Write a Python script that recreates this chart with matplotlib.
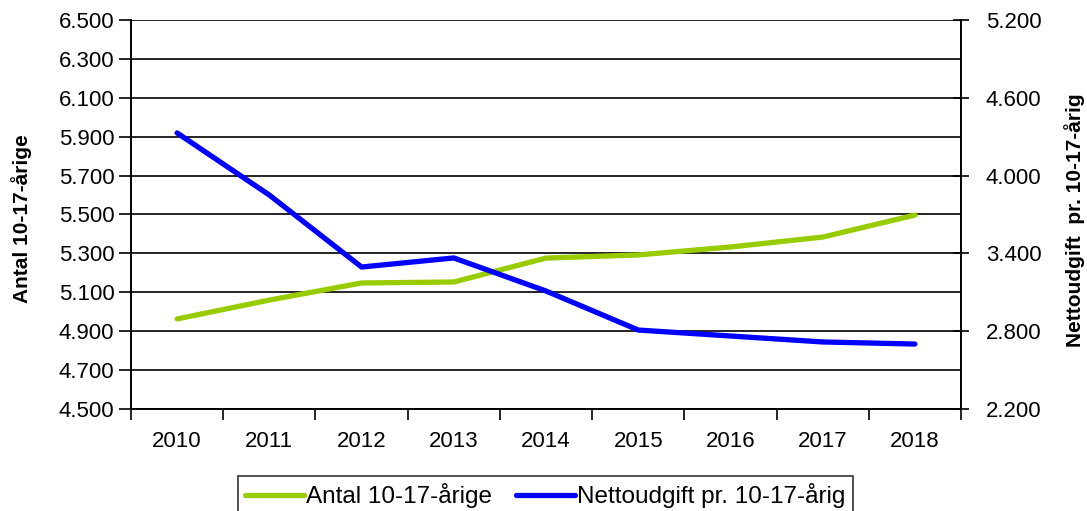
import matplotlib.pyplot as plt
from matplotlib.ticker import FuncFormatter, FixedLocator
import numpy as np

plt.rcParams['font.family'] = ['Liberation Sans', 'DejaVu Sans']

years = ['2010', '2011', '2012', '2013', '2014', '2015', '2016', '2017', '2018']
antal = [4963, 5060, 5148, 5153, 5276, 5292, 5333, 5384, 5497]
nettoudgift = [4329, 3850, 3295, 3365, 3110, 2809, 2763, 2717, 2701]

left_ticks = [4500, 4700, 4900, 5100, 5300, 5500, 5700, 5900, 6100, 6300, 6500]
right_ticks = [2200, 2800, 3400, 4000, 4600, 5200]

green = '#99CC00'
blue = '#0000FF'


def dot_thousands(v, pos):
    return f'{int(round(v)):,}'.replace(',', '.')


fig = plt.figure(figsize=(10.87, 5.11), dpi=100)
ax = fig.add_axes([131/1087, 1 - 409/511, 830/1087, 389/511])
ax2 = ax.twinx()

x = np.arange(len(years))
l1, = ax.plot(x, antal, color=green, lw=3.8, solid_capstyle='round', label='Antal 10-17-årige')
l2, = ax2.plot(x, nettoudgift, color=blue, lw=3.8, solid_capstyle='round', label='Nettoudgift pr. 10-17-årig')

# left axis
ax.set_ylim(left_ticks[0], left_ticks[-1])
ax.yaxis.set_major_locator(FixedLocator(left_ticks))
ax.yaxis.set_major_formatter(FuncFormatter(dot_thousands))
ax.grid(axis='y', color='black', lw=1.2)
ax.set_axisbelow(True)
ax.tick_params(axis='y', direction='out', length=9, width=1.2, labelsize=16, pad=3)
ax.set_ylabel('Antal 10-17-årige', fontsize=15, fontweight='bold')
ax.yaxis.set_label_coords(-0.119, 0.49)

# right axis
ax2.set_ylim(right_ticks[0], right_ticks[-1])
ax2.yaxis.set_major_locator(FixedLocator(right_ticks))
ax2.yaxis.set_major_formatter(FuncFormatter(dot_thousands))
ax2.tick_params(axis='y', direction='inout', length=12, width=1.2, labelsize=16, pad=12)
ax2.set_ylabel('Nettoudgift  pr. 10-17-årig', fontsize=15, fontweight='bold')
ax2.yaxis.set_label_coords(1.124, 0.486)

# x axis: labels centered, ticks on category boundaries
ax.set_xlim(-0.5, len(years) - 0.5)
ax.set_xticks(x)
ax.set_xticklabels(years)
ax.xaxis.set_minor_locator(FixedLocator(np.arange(-0.5, len(years), 1.0)))
ax.tick_params(axis='x', which='major', length=0, labelsize=16, pad=16)
ax.tick_params(axis='x', which='minor', direction='out', length=8, width=1.2)

for a in (ax, ax2):
    for s in a.spines.values():
        s.set_linewidth(1.2)
        s.set_color('black')
    a.spines['top'].set_visible(False)

leg = fig.legend(handles=[l1, l2], loc='upper left', bbox_to_anchor=(238/1087, 1 - 476/511),
                 ncol=2, frameon=True, fancybox=False, fontsize=17.5, handlelength=2.4,
                 handletextpad=0.1, columnspacing=1.0, borderpad=0.3, borderaxespad=0)
leg.get_frame().set_edgecolor('black')
leg.get_frame().set_linewidth(1.2)

fig.savefig('out.png', dpi=100)
